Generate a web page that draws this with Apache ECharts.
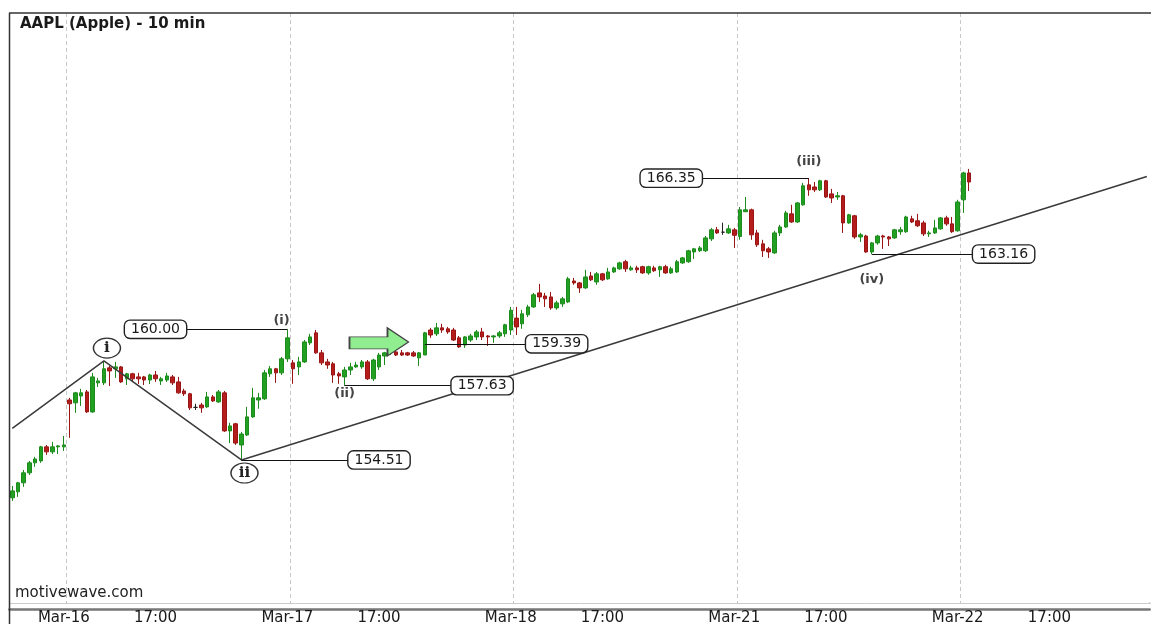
<!DOCTYPE html>
<html>
<head>
<meta charset="utf-8">
<script src="https://cdn.jsdelivr.net/npm/echarts/dist/echarts.min.js"></script>
<style>
html,body{margin:0;padding:0;background:#fff;}
#chart{width:1151px;height:624px;}
</style>
</head>
<body>
<div id="chart"></div>
<script>
// sessions shown on the chart (bar times in CET, 10 min bars)
var days = ['Mar-15', 'Mar-16', 'Mar-17', 'Mar-18', 'Mar-21', 'Mar-22'];
var sessionTimes = [];
for (var h = 14; h <= 20; h++) {
    for (var m = 0; m < 60; m += 10) {
        if (h === 14 && m < 30) continue;
        sessionTimes.push(h + ':' + (m < 10 ? '0' + m : m));
    }
}
var firstDayBars = 10;   // tail of Mar-15 visible on the left
var totalBars = 199;     // includes empty slots to the right
var timeTick = '17:00';

// candles: [open, close, low, high]
var candles = [
  [152.92,153.21,152.79,153.42],[153.17,153.55,152.96,153.59],[153.55,153.97,153.38,154.09],[153.97,154.39,153.88,154.47],
  [154.39,154.55,154.22,154.64],[154.47,155.06,154.39,155.10],[155.06,154.85,154.72,155.14],[154.85,155.06,154.76,155.27],
  [155.06,155.10,154.76,155.14],[155.06,155.14,154.89,155.52],
  // Mar-16
  [157.03,156.87,155.44,157.12],[156.91,157.33,156.49,157.37],[157.20,157.33,156.78,157.50],[157.37,156.53,156.49,157.45],
  [156.53,158.00,156.49,158.17],[157.75,157.83,157.58,157.96],[157.75,158.34,157.66,158.63],[158.38,158.25,157.62,158.46],
  [158.34,158.42,157.96,158.63],[158.42,157.79,157.75,158.46],[157.92,158.13,157.66,158.17],[158.13,157.92,157.79,158.17],
  [158.00,157.92,157.70,158.17],[158.00,157.87,157.66,158.04],[157.87,158.08,157.70,158.13],[158.08,157.92,157.79,158.25],
  [157.83,157.92,157.66,158.00],[157.87,158.04,157.79,158.17],[158.00,157.75,157.66,158.08],[157.79,157.33,157.29,158.00],
  [157.41,157.29,157.20,157.50],[157.29,156.70,156.61,157.33],[156.72,156.72,156.61,156.87],[156.82,156.70,156.49,156.91],
  [156.74,157.16,156.70,157.37],[157.16,156.99,156.95,157.24],[156.95,157.37,156.91,157.45],[157.33,155.73,155.69,157.41],
  [155.73,155.94,155.22,156.07],[156.03,155.22,155.14,156.07],[155.14,155.60,154.51,155.69],[155.56,156.32,155.52,156.74],
  [156.32,157.12,156.28,157.54],[157.03,157.12,156.66,157.33],[157.08,158.17,157.03,158.29],[158.13,158.34,158.00,158.46],
  [158.34,158.17,157.75,158.38],[158.17,158.76,158.08,158.84],[158.76,159.64,158.63,160.00],
  // Mar-17
  [158.59,158.34,157.71,158.71],[158.42,158.63,158.08,158.84],[158.63,159.47,158.59,159.55],[159.43,159.68,159.34,159.81],
  [159.85,159.01,158.97,159.97],[159.01,158.59,158.50,159.13],[158.63,158.50,158.34,158.76],[158.55,158.08,157.75,158.63],
  [158.13,158.04,157.71,158.21],[158.00,158.29,157.63,158.42],[158.29,158.42,158.08,158.59],[158.42,158.50,158.38,158.63],
  [158.42,158.63,158.34,158.71],[158.63,157.92,157.87,158.71],[157.92,158.71,157.83,158.76],[158.42,158.92,158.29,159.01],
  [158.88,159.01,158.50,159.05],[159.03,159.05,158.92,159.18],[159.05,158.92,158.88,159.22],[159.01,158.92,158.88,159.13],
  [159.01,158.92,158.88,159.05],[159.01,158.88,158.84,159.09],[158.80,159.01,158.46,159.05],[158.92,159.85,158.92,159.89],
  [159.97,159.76,159.64,160.06],[159.81,160.06,159.72,160.27],[160.06,159.97,159.85,160.23],[160.02,159.89,159.81,160.10],
  [159.97,159.55,159.51,160.06],[159.64,159.26,159.22,159.72],[159.34,159.68,159.22,159.72],[159.55,159.72,159.47,159.81],
  [159.68,159.89,159.55,159.97],[159.89,159.68,159.55,160.06],[159.72,159.68,159.30,159.76],[159.68,159.72,159.43,159.76],
  [159.72,159.85,159.64,159.93],[159.81,160.19,159.68,160.23],[159.97,160.80,159.76,160.94],
  // Mar-18
  [160.47,160.10,159.76,160.94],[160.23,160.65,160.02,160.82],[160.61,160.94,160.52,161.03],[160.94,161.45,160.90,161.53],
  [161.53,161.36,161.15,161.91],[161.40,161.28,160.94,161.53],[161.36,160.90,160.82,161.57],[160.90,161.11,160.82,161.20],
  [161.07,161.28,160.94,161.36],[161.15,162.12,161.11,162.20],[162.03,161.95,161.87,162.16],[161.95,161.74,161.53,161.99],
  [161.74,162.20,161.70,162.50],[162.24,162.08,162.03,162.41],[161.99,162.33,161.87,162.41],[162.33,162.08,162.03,162.37],
  [162.12,162.41,162.08,162.58],[162.41,162.58,162.37,162.63],[162.54,162.79,162.50,162.84],[162.84,162.54,162.41,162.92],
  [162.50,162.58,162.46,162.67],[162.58,162.50,162.37,162.67],[162.63,162.37,162.33,162.67],[162.37,162.63,162.29,162.67],
  [162.58,162.46,162.41,162.67],[162.50,162.63,162.20,162.67],[162.63,162.37,162.33,162.71],[162.37,162.54,162.33,162.63],
  [162.41,162.84,162.37,162.92],[162.79,163.00,162.75,163.04],[162.84,163.30,162.79,163.34],[163.25,163.38,162.96,163.42],
  [163.30,163.42,163.25,163.50],[163.30,163.84,163.25,163.92],[163.80,164.18,163.71,164.26],[164.18,164.05,164.01,164.30],
  [164.08,164.08,163.97,164.48],[164.05,164.22,164.01,164.39],[164.18,163.95,163.42,164.26],
  // Mar-21
  [163.90,165.02,163.76,165.14],[164.94,165.02,164.94,165.56],[165.02,163.97,163.76,165.07],[164.05,163.55,163.46,164.18],
  [163.59,163.30,163.04,163.76],[163.38,163.25,163.00,163.46],[163.21,164.05,163.17,164.14],[164.05,164.30,163.92,164.39],
  [164.30,164.89,164.26,164.98],[164.85,164.51,164.47,165.23],[164.51,165.31,164.47,165.35],[165.23,166.03,165.19,166.15],
  [166.07,165.86,165.61,166.35],[165.98,165.86,165.77,166.19],[165.86,166.24,165.81,166.28],[166.24,165.56,165.52,166.28],
  [165.69,165.52,165.31,165.90],[165.56,165.61,165.44,165.77],[165.61,164.47,164.05,165.65],[164.47,164.81,164.43,164.85],
  [164.77,163.88,163.80,164.81],[163.88,163.97,163.67,164.05],[163.92,163.25,163.21,163.97],[163.25,163.63,163.16,163.67],
  [163.63,163.92,163.55,163.97],[163.92,163.88,163.38,163.97],[163.88,163.80,163.50,163.92],[163.84,164.18,163.80,164.22],
  [164.10,164.18,163.97,164.30],[164.10,164.72,164.05,164.77],[164.64,164.51,164.47,164.77],[164.56,164.35,164.30,164.85],
  [164.47,164.01,163.92,164.56],[164.01,164.05,163.88,164.14],[164.05,164.26,164.01,164.60],[164.22,164.68,164.18,164.72],
  [164.68,164.43,164.35,164.77],[164.43,164.10,164.05,164.72],[164.14,165.35,164.10,165.44],
  // Mar-22
  [165.44,166.57,164.89,166.62],[166.57,166.19,165.81,166.74]
];

// Elliott wave path: [bar index, price]
var wavePath = [[0, 155.84], [16, 158.67], [40, 154.51], [198, 166.42]];
// circled primary labels
var primaryLabels = [[16, 159.21, 'i'], [40, 153.96, 'ii']];
// minor wave labels
var minorLabels = [[47, 160.35, '(i)'], [58, 157.29, '(ii)'], [139, 167.03, '(iii)'], [150, 162.08, '(iv)']];
// price callouts: [box bar, price, pivot bar]
var priceBoxes = [[25, 160.00, 48], [64, 154.51, 40], [82, 157.63, 58], [95, 159.39, 72], [115, 166.35, 139], [173, 163.16, 150]];
var arrowPoint = [[64, 159.47]];

// categories + axis tick texts
var cats = [];
var tickText = {};
for (var d = 0; d < days.length; d++) {
    var start = d === 0 ? sessionTimes.length - firstDayBars : 0;
    for (var k = start; k < sessionTimes.length && cats.length < totalBars; k++) {
        if (k === 0 && cats.length > 0) tickText[cats[cats.length - 1]] = days[d];
        var name = days[d] + ' ' + sessionTimes[k];
        if (sessionTimes[k] === timeTick) tickText[name] = timeTick;
        cats.push(name);
    }
}

var chart = echarts.init(document.getElementById('chart'));
var FONT = 'DejaVu Sans';

var connectors = priceBoxes.map(function (b) {
    return [{coord: [b[0], b[1]]}, {coord: [b[2], b[1]]}];
});

var option = {
    animation: false,
    title: {
        text: 'AAPL (Apple) - 10 min',
        left: 20, top: 17, padding: 0,
        textStyle: {fontSize: 15, fontWeight: 'bold', color: '#1a1a1a', fontFamily: FONT}
    },
    grid: {left: 9.4, right: 1.3, top: 13, bottom: 21, containLabel: false, outerBoundsMode: 'none'},
    xAxis: {
        type: 'category',
        data: cats,
        boundaryGap: true,
        offset: 6,
        axisLine: {lineStyle: {color: '#777', width: 2.5}},
        axisTick: {
            inside: true, length: 5, alignWithLabel: true,
            interval: function (i, v) { return tickText[v] !== undefined; },
            lineStyle: {color: '#222', width: 1.5}
        },
        axisLabel: {
            margin: 2,
            interval: function (i, v) { return tickText[v] !== undefined; },
            formatter: function (v) { return tickText[v] || ''; },
            fontSize: 15, color: '#1a1a1a', fontFamily: FONT
        },
        splitLine: {
            show: true,
            interval: function (i, v) { return v.slice(-5) === '14:30'; },
            lineStyle: {color: '#c8c8c8', type: [4, 3], width: 1}
        }
    },
    yAxis: {
        type: 'value', min: 148.50, max: 173.29, show: false
    },
    graphic: [
        // hides the extra split line ECharts puts on the right edge
        {type: 'rect', z: 1, shape: {x: 1147.5, y: 14, width: 4, height: 588}, style: {fill: '#fff'}},
        {type: 'line', z: 10, shape: {x1: 9, y1: 13, x2: 1151, y2: 13}, style: {stroke: '#333', lineWidth: 1.5}},
        {type: 'line', z: 10, shape: {x1: 9.5, y1: 13, x2: 9.5, y2: 624}, style: {stroke: '#333', lineWidth: 1.5}},
        {type: 'line', z: 1, shape: {x1: 10, y1: 603.5, x2: 1151, y2: 603.5}, style: {stroke: '#ccc', lineWidth: 1}},
        {type: 'text', z: 10, left: 15, top: 586, style: {text: 'motivewave.com', font: '15px "DejaVu Sans"', fill: '#222'}}
    ],
    series: [
        {
            name: 'AAPL',
            type: 'candlestick',
            data: candles,
            barWidth: 4,
            z: 2,
            itemStyle: {
                color: '#22a022', borderColor: '#1c8a1c',
                color0: '#b51d1d', borderColor0: '#991515',
                borderColorDoji: '#222', borderWidth: 1
            },
            markLine: {
                silent: true, symbol: 'none', animation: false,
                label: {show: false},
                lineStyle: {color: '#111', width: 1.2, type: 'solid', opacity: 1},
                data: connectors
            }
        },
        {
            name: 'wave',
            type: 'line',
            data: wavePath,
            symbol: 'none',
            z: 3,
            lineStyle: {color: '#3a3a3a', width: 1.5}
        },
        {
            name: 'arrow',
            type: 'scatter',
            data: arrowPoint,
            z: 4,
            symbol: 'path://M0,9L38,9L38,0L59,14L38,28L38,21L0,21Z',
            symbolSize: [59, 28],
            itemStyle: {color: '#90ee90', borderColor: '#444', borderWidth: 1.3, opacity: 1}
        },
        {
            name: 'primary',
            type: 'scatter',
            data: primaryLabels,
            z: 5,
            symbol: 'circle',
            symbolSize: [27, 20],
            symbolOffset: [3, 0],
            itemStyle: {color: '#fff', borderColor: '#333', borderWidth: 1.3, opacity: 1},
            label: {
                show: true, position: 'inside',
                formatter: function (p) { return p.data[2]; },
                fontFamily: 'DejaVu Serif', fontWeight: 'bold', fontSize: 15, color: '#222'
            }
        },
        {
            name: 'minor',
            type: 'scatter',
            data: minorLabels,
            z: 5,
            symbolSize: 1,
            itemStyle: {color: 'rgba(0,0,0,0)', opacity: 1},
            label: {
                show: true, position: 'inside',
                formatter: function (p) { return p.data[2]; },
                fontFamily: FONT, fontWeight: 'bold', fontSize: 13, color: '#444'
            }
        },
        {
            name: 'prices',
            type: 'scatter',
            data: priceBoxes.map(function (b) { return [b[0], b[1], b[1].toFixed(2)]; }),
            z: 6,
            symbolSize: 1,
            itemStyle: {color: 'rgba(0,0,0,0)', opacity: 1},
            label: {
                show: true, position: 'inside',
                formatter: function (p) { return p.data[2]; },
                backgroundColor: '#fff', borderColor: '#222', borderWidth: 1.4, borderRadius: 5,
                padding: [1, 6, 0, 6], lineHeight: 16,
                fontFamily: FONT, fontSize: 14, color: '#1a1a1a'
            }
        }
    ]
};
chart.setOption(option);
</script>
</body>
</html>
